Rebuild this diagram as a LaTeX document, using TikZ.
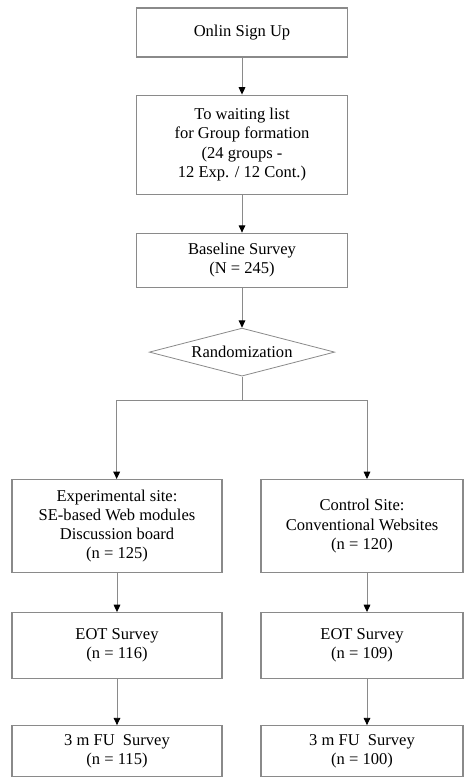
\documentclass[tikz,border=0pt]{standalone}
\usepackage{fontspec}
\setmainfont{Liberation Serif}
\usetikzlibrary{shapes.geometric,arrows.meta,positioning}
\definecolor{edge}{HTML}{8A8A8A}

\begin{document}
\begin{tikzpicture}[font=\fontsize{12.4pt}{14.4pt}\selectfont,
  flowbox/.style={draw=edge,line width=0.8pt,fill=white,align=center,inner sep=2pt},
  link/.style={draw=edge,line width=0.7pt},
  arr/.style={link,-{Triangle[length=5.5pt,width=5pt,color=black]}}]
  \useasboundingbox (0,0) rectangle (348pt,-582.75pt);
  % main column
  \node[flowbox,minimum width=158pt,minimum height=36.75pt] (signup) at (181.5pt,-24.4pt) {Onlin Sign Up};
  \node[flowbox,minimum width=158pt,minimum height=74.25pt,below=27.75pt of signup] (waiting)
        {To waiting list\\for Group formation\\(24 groups -\\12 Exp. / 12 Cont.)};
  \node[flowbox,minimum width=158pt,minimum height=40.5pt,below=28.5pt of waiting] (baseline)
        {Baseline Survey\\(N = 245)};
  \node[diamond,draw=edge,line width=0.6pt,inner sep=0pt,shape aspect=3.86,
        minimum width=139pt,minimum height=36pt,below=30pt of baseline] (rand) {Randomization};
  \coordinate (splitl) at (87.5pt,-300pt);
  \coordinate (splitr) at (275.25pt,-300pt);
  % two arms
  \node[flowbox,minimum width=157.5pt,minimum height=69.75pt,anchor=north] (exp) at (87.75pt,-359.25pt)
        {Experimental site:\\SE-based Web modules\\Discussion board\\(n = 125)};
  \node[flowbox,minimum width=151.5pt,minimum height=69.75pt,anchor=north] (ctl) at (271.5pt,-359.25pt)
        {Control Site:\\Conventional Websites\\(n = 120)};
  \node[flowbox,minimum width=157.5pt,minimum height=49.5pt,below=29.25pt of exp] (eotexp)
        {EOT Survey\\(n = 116)};
  \node[flowbox,minimum width=151.5pt,minimum height=49.5pt,below=29.25pt of ctl] (eotctl)
        {EOT Survey\\(n = 109)};
  \node[flowbox,minimum width=157.5pt,minimum height=38.25pt,below=34.5pt of eotexp] (fuexp)
        {3 m FU\ \ Survey\\(n = 115)};
  \node[flowbox,minimum width=151.5pt,minimum height=38.25pt,below=34.5pt of eotctl] (fuctl)
        {3 m FU\ \ Survey\\(n = 100)};
  % connectors
  \draw[arr] (signup) -- (waiting);
  \draw[arr] (waiting) -- (baseline);
  \draw[arr] (baseline) -- (rand);
  \draw[link] (rand.south) |- (splitl);
  \draw[link] (rand.south) |- (splitr);
  \draw[arr] (splitl) -- (splitl |- exp.north);
  \draw[arr] (splitr) -- (splitr |- ctl.north);
  \draw[arr] (exp) -- (eotexp);
  \draw[arr] (eotexp) -- (fuexp);
  \draw[arr] (ctl.south -| splitr) -- (eotctl.north -| splitr);
  \draw[arr] (eotctl.south -| splitr) -- (fuctl.north -| splitr);
\end{tikzpicture}
\end{document}
